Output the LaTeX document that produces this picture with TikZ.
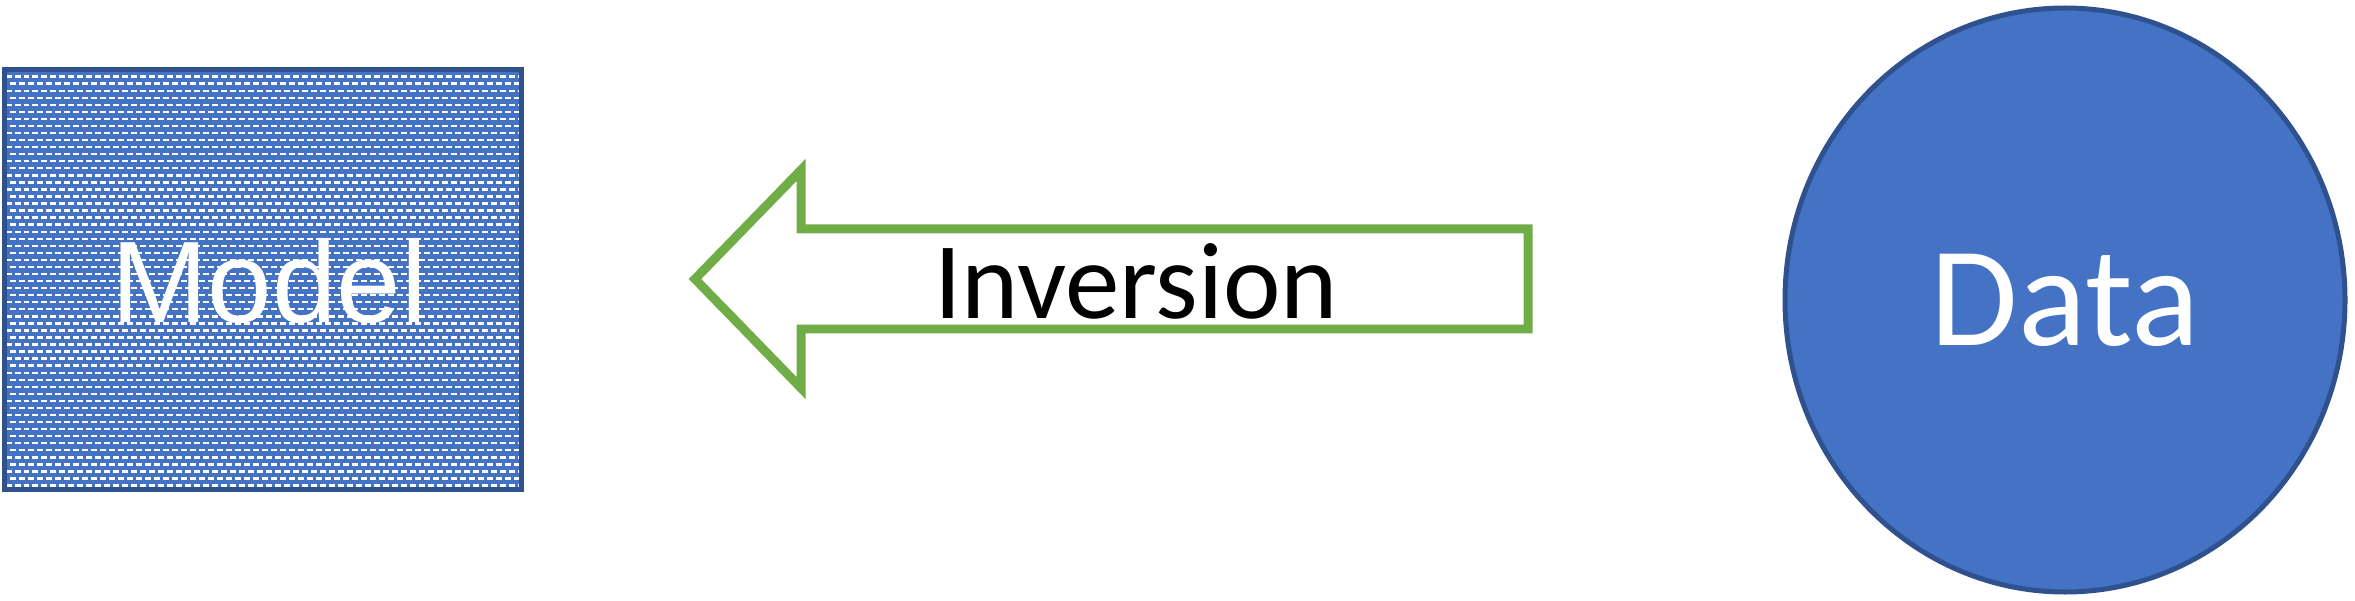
\documentclass[tikz,border=0pt]{standalone}
\usepackage{fontspec}
\setmainfont{Liberation Sans}
\newfontfamily\calib{Carlito}
\newfontfamily\arialf{Liberation Sans}
\usetikzlibrary{shapes.geometric}
\definecolor{accblue}{HTML}{4472C4}
\definecolor{darkblue}{HTML}{2F528F}
\definecolor{accgreen}{HTML}{70AD47}
\tikzset{
  modelbox/.style={rectangle, fill=accblue, inner sep=0pt,
    minimum width=5.15cm, minimum height=4.18cm,
    path picture={
      \foreach \i in {0,...,60}{
        \pgfmathsetmacro{\yy}{0.03+\i*0.0705}
        \pgfmathsetmacro{\off}{mod(\i,2)*0.045}
        \draw[white, line width=0.024cm, dash pattern=on 0.06cm off 0.03cm, dash phase=\off cm]
          ([yshift=\yy cm]path picture bounding box.south west) --
          ([yshift=\yy cm]path picture bounding box.south east);
      }
    }},
  modellabel/.style={text=white, font=\arialf\fontsize{33}{38}\selectfont, inner sep=0pt},
  databox/.style={ellipse, fill=accblue, draw=darkblue, line width=0.05cm,
    minimum width=5.6cm, minimum height=5.84cm, inner sep=0pt,
    text=white, font=\calib\fontsize{40.5}{48}\selectfont},
  bigarrow/.style={draw=accgreen, line width=0.09cm, fill=white, line join=miter},
  arrowlabel/.style={font=\calib\fontsize{31}{37}\selectfont, text=black, inner sep=0pt}
}
\begin{document}
\begin{tikzpicture}
\useasboundingbox (0,0) rectangle (23.55,6);
% Model box
\node[modelbox] (model) at (2.63,3.205) {};
\draw[darkblue, line width=0.05cm] (model.south west) rectangle (model.north east);
\node[modellabel, anchor=base] (modeltext) at (2.69,2.77) {Model};
% Arrow
\coordinate (tip) at (6.95,3.21);
\draw[bigarrow] (tip) -- (8.01,4.30) -- (8.01,3.71) -- (15.28,3.71) -- (15.28,2.71) -- (8.01,2.71) -- (8.01,2.12) -- cycle;
\node[arrowlabel, anchor=base] (inv) at (11.36,2.82) {Inversion};
% Data circle
\node[databox] (data) at (20.65,3.0) {Data};
\end{tikzpicture}
\end{document}
